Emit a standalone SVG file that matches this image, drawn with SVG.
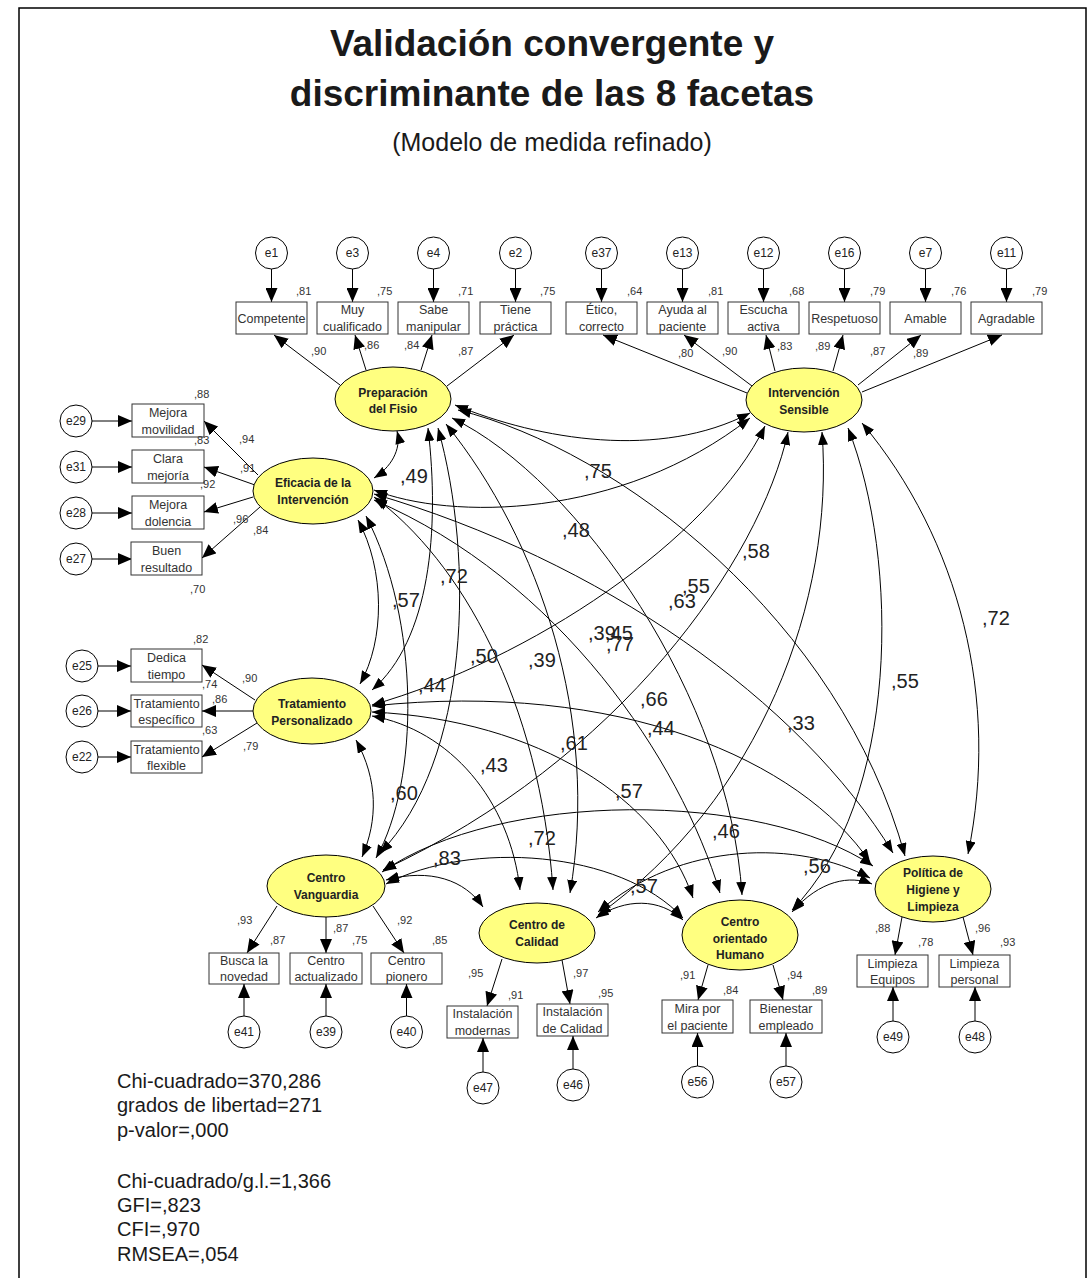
<svg xmlns="http://www.w3.org/2000/svg" width="1091" height="1278" viewBox="0 0 1091 1278">
  <defs>
    <marker id="ah" viewBox="0 0 14 12" refX="14" refY="6" markerWidth="14" markerHeight="12" markerUnits="userSpaceOnUse" orient="auto-start-reverse">
      <path d="M0,0 L14,6 L0,12 z" fill="#000"/>
    </marker>
    <marker id="ac" viewBox="0 0 13 10" refX="13" refY="5" markerWidth="13" markerHeight="10" markerUnits="userSpaceOnUse" orient="auto-start-reverse">
      <path d="M0,0 L13,5 L0,10 z" fill="#000"/>
    </marker>
    <style>
      text { font-family: "Liberation Sans", Arial, sans-serif; }
      .title { font-size: 37px; font-weight: bold; fill: #1a1a1a; text-anchor: middle; }
      .sub { font-size: 25px; fill: #1a1a1a; text-anchor: middle; }
      .stat { font-size: 20px; fill: #1a1a1a; }
      .lat { fill: #ffff80; stroke: #000; stroke-width: 1; }
      .latt { font-size: 12px; font-weight: bold; fill: #222; text-anchor: middle; }
      .box { fill: #fff; stroke: #333; stroke-width: 1; }
      .boxt { font-size: 12.5px; fill: #333; text-anchor: middle; }
      .err { fill: #fff; stroke: #000; stroke-width: 1; }
      .errt { font-size: 12px; fill: #222; text-anchor: middle; }
      .v { font-size: 11px; fill: #333; }
      .arr { stroke: #000; stroke-width: 1; fill: none; marker-end: url(#ah); }
      .cov { stroke: #000; stroke-width: 1; fill: none; marker-start: url(#ac); marker-end: url(#ac); }
      .r { font-size: 20px; fill: #222; }
      .frame { stroke: #000; stroke-width: 1.5; fill: none; }
    </style>
  </defs>

  <rect width="1091" height="1278" fill="#fff"/>
  <path class="frame" d="M19,1278 V8 H1086 V1278"/>

  <!-- heading -->
  <text class="title" x="552" y="56">Validación convergente y</text>
  <text class="title" x="552" y="106">discriminante de las 8 facetas</text>
  <text class="sub" x="552" y="151">(Modelo de medida refinado)</text>

  <!-- covariances between factors -->
  <g id="covariances">
    <path class="cov" d="M397,431 C402,450 390,468 374,478"/>
    <path class="cov" d="M455,405 C540,440 660,460 750,413"/>
    <path class="cov" d="M374,490 C450,520 620,520 750,418"/>
    <path class="cov" d="M458,410 C620,450 840,620 905,856"/>
    <path class="cov" d="M452,418 C580,480 730,700 742,895"/>
    <path class="cov" d="M446,424 C540,540 600,720 570,893"/>
    <path class="cov" d="M438,428 C475,560 470,760 380,853"/>
    <path class="cov" d="M428,428 C440,530 430,640 372,690"/>
    <path class="cov" d="M862,423 C960,540 1000,700 968,854"/>
    <path class="cov" d="M848,428 C900,560 900,800 792,910"/>
    <path class="cov" d="M822,432 C835,600 760,800 598,915"/>
    <path class="cov" d="M788,432 C760,560 620,760 383,870"/>
    <path class="cov" d="M765,426 C710,540 530,660 372,705"/>
    <path class="cov" d="M358,520 C385,570 385,640 360,684"/>
    <path class="cov" d="M366,516 C420,620 420,780 376,858"/>
    <path class="cov" d="M374,497 C460,560 540,700 553,890"/>
    <path class="cov" d="M374,500 C560,580 680,760 720,893"/>
    <path class="cov" d="M374,494 C600,560 800,700 893,853"/>
    <path class="cov" d="M356,740 C378,780 378,820 362,857"/>
    <path class="cov" d="M372,716 C450,730 510,800 520,890"/>
    <path class="cov" d="M372,712 C540,720 660,800 693,898"/>
    <path class="cov" d="M372,706 C620,680 800,760 870,862"/>
    <path class="cov" d="M386,880 C430,868 465,880 483,907"/>
    <path class="cov" d="M386,884 C470,840 620,850 683,918"/>
    <path class="cov" d="M382,872 C500,790 760,790 873,866"/>
    <path class="cov" d="M596,918 C625,898 660,898 683,920"/>
    <path class="cov" d="M598,912 C680,840 800,840 870,878"/>
    <path class="cov" d="M792,912 C820,880 850,875 872,884"/>
  </g>

  <!-- correlation values -->
  <g id="correlations">
    <text class="r" x="400" y="483">,49</text>
    <text class="r" x="584" y="478">,75</text>
    <text class="r" x="562" y="537">,48</text>
    <text class="r" x="742" y="558">,58</text>
    <text class="r" x="440" y="583">,72</text>
    <text class="r" x="682" y="593">,55</text>
    <text class="r" x="668" y="608">,63</text>
    <text class="r" x="392" y="607">,57</text>
    <text class="r" x="588" y="640">,39</text>
    <text class="r" x="605" y="640">,45</text>
    <text class="r" x="606" y="651">,77</text>
    <text class="r" x="470" y="663">,50</text>
    <text class="r" x="528" y="667">,39</text>
    <text class="r" x="418" y="692">,44</text>
    <text class="r" x="640" y="706">,66</text>
    <text class="r" x="647" y="735">,44</text>
    <text class="r" x="560" y="750">,61</text>
    <text class="r" x="480" y="772">,43</text>
    <text class="r" x="390" y="800">,60</text>
    <text class="r" x="615" y="798">,57</text>
    <text class="r" x="787" y="730">,33</text>
    <text class="r" x="982" y="625">,72</text>
    <text class="r" x="891" y="688">,55</text>
    <text class="r" x="528" y="845">,72</text>
    <text class="r" x="712" y="838">,46</text>
    <text class="r" x="433" y="865">,83</text>
    <text class="r" x="803" y="873">,56</text>
    <text class="r" x="630" y="893">,57</text>
  </g>

  <!-- Preparación del Fisio -->
  <g id="preparacion">
    <circle class="err" cx="271.5" cy="253" r="16"/><text class="errt" x="271.5" y="257">e1</text>
    <circle class="err" cx="352.5" cy="253" r="16"/><text class="errt" x="352.5" y="257">e3</text>
    <circle class="err" cx="433.5" cy="253" r="16"/><text class="errt" x="433.5" y="257">e4</text>
    <circle class="err" cx="515.5" cy="253" r="16"/><text class="errt" x="515.5" y="257">e2</text>
    <line class="arr" x1="271.5" y1="269" x2="271.5" y2="302"/>
    <line class="arr" x1="352.5" y1="269" x2="352.5" y2="302"/>
    <line class="arr" x1="433.5" y1="269" x2="433.5" y2="302"/>
    <line class="arr" x1="515.5" y1="269" x2="515.5" y2="302"/>
    <rect class="box" x="236" y="302" width="71" height="32"/><text class="boxt" x="271.5" y="323">Competente</text>
    <rect class="box" x="317" y="302" width="71" height="32"/><text class="boxt" x="352.5" y="314">Muy</text><text class="boxt" x="352.5" y="331">cualificado</text>
    <rect class="box" x="398" y="302" width="71" height="32"/><text class="boxt" x="433.5" y="314">Sabe</text><text class="boxt" x="433.5" y="331">manipular</text>
    <rect class="box" x="480" y="302" width="71" height="32"/><text class="boxt" x="515.5" y="314">Tiene</text><text class="boxt" x="515.5" y="331">práctica</text>
    <text class="v" x="296" y="295">,81</text>
    <text class="v" x="377" y="295">,75</text>
    <text class="v" x="458" y="295">,71</text>
    <text class="v" x="540" y="295">,75</text>
    <line class="arr" x1="340" y1="385" x2="274" y2="335"/>
    <line class="arr" x1="366" y1="370" x2="355" y2="335"/>
    <line class="arr" x1="421" y1="370" x2="432" y2="335"/>
    <line class="arr" x1="447" y1="386" x2="514" y2="335"/>
    <text class="v" x="311" y="355">,90</text>
    <text class="v" x="364" y="349">,86</text>
    <text class="v" x="404" y="349">,84</text>
    <text class="v" x="458" y="355">,87</text>
    <ellipse class="lat" cx="393" cy="399" rx="58" ry="32"/>
    <text class="latt" x="393" y="397">Preparación</text>
    <text class="latt" x="393" y="413">del Fisio</text>
  </g>

  <!-- Intervención Sensible -->
  <g id="intervencion">
    <circle class="err" cx="601.5" cy="253" r="16"/><text class="errt" x="601.5" y="257">e37</text>
    <circle class="err" cx="682.5" cy="253" r="16"/><text class="errt" x="682.5" y="257">e13</text>
    <circle class="err" cx="763.5" cy="253" r="16"/><text class="errt" x="763.5" y="257">e12</text>
    <circle class="err" cx="844.5" cy="253" r="16"/><text class="errt" x="844.5" y="257">e16</text>
    <circle class="err" cx="925.5" cy="253" r="16"/><text class="errt" x="925.5" y="257">e7</text>
    <circle class="err" cx="1006.5" cy="253" r="16"/><text class="errt" x="1006.5" y="257">e11</text>
    <line class="arr" x1="601.5" y1="269" x2="601.5" y2="302"/>
    <line class="arr" x1="682.5" y1="269" x2="682.5" y2="302"/>
    <line class="arr" x1="763.5" y1="269" x2="763.5" y2="302"/>
    <line class="arr" x1="844.5" y1="269" x2="844.5" y2="302"/>
    <line class="arr" x1="925.5" y1="269" x2="925.5" y2="302"/>
    <line class="arr" x1="1006.5" y1="269" x2="1006.5" y2="302"/>
    <rect class="box" x="566" y="302" width="71" height="32"/><text class="boxt" x="601.5" y="314">Ético,</text><text class="boxt" x="601.5" y="331">correcto</text>
    <rect class="box" x="647" y="302" width="71" height="32"/><text class="boxt" x="682.5" y="314">Ayuda al</text><text class="boxt" x="682.5" y="331">paciente</text>
    <rect class="box" x="728" y="302" width="71" height="32"/><text class="boxt" x="763.5" y="314">Escucha</text><text class="boxt" x="763.5" y="331">activa</text>
    <rect class="box" x="809" y="302" width="71" height="32"/><text class="boxt" x="844.5" y="323">Respetuoso</text>
    <rect class="box" x="890" y="302" width="71" height="32"/><text class="boxt" x="925.5" y="323">Amable</text>
    <rect class="box" x="971" y="302" width="71" height="32"/><text class="boxt" x="1006.5" y="323">Agradable</text>
    <text class="v" x="627" y="295">,64</text>
    <text class="v" x="708" y="295">,81</text>
    <text class="v" x="789" y="295">,68</text>
    <text class="v" x="870" y="295">,79</text>
    <text class="v" x="951" y="295">,76</text>
    <text class="v" x="1032" y="295">,79</text>
    <line class="arr" x1="747" y1="393" x2="603" y2="335"/>
    <line class="arr" x1="752" y1="386" x2="684" y2="335"/>
    <line class="arr" x1="775" y1="371" x2="766" y2="335"/>
    <line class="arr" x1="833" y1="371" x2="843" y2="335"/>
    <line class="arr" x1="858" y1="385" x2="921" y2="335"/>
    <line class="arr" x1="862" y1="392" x2="1002" y2="335"/>
    <text class="v" x="678" y="357">,80</text>
    <text class="v" x="722" y="355">,90</text>
    <text class="v" x="777" y="350">,83</text>
    <text class="v" x="815" y="350">,89</text>
    <text class="v" x="870" y="355">,87</text>
    <text class="v" x="913" y="357">,89</text>
    <ellipse class="lat" cx="804" cy="400" rx="58" ry="32"/>
    <text class="latt" x="804" y="397">Intervención</text>
    <text class="latt" x="804" y="414">Sensible</text>
  </g>

  <!-- Eficacia de la Intervención -->
  <g id="eficacia">
    <circle class="err" cx="76" cy="421" r="16"/><text class="errt" x="76" y="425">e29</text>
    <circle class="err" cx="76" cy="467" r="16"/><text class="errt" x="76" y="471">e31</text>
    <circle class="err" cx="76" cy="513" r="16"/><text class="errt" x="76" y="517">e28</text>
    <circle class="err" cx="76" cy="559" r="16"/><text class="errt" x="76" y="563">e27</text>
    <line class="arr" x1="92" y1="421" x2="132" y2="421"/>
    <line class="arr" x1="92" y1="467" x2="132" y2="467"/>
    <line class="arr" x1="92" y1="513" x2="132" y2="513"/>
    <line class="arr" x1="92" y1="559" x2="132" y2="559"/>
    <rect class="box" x="132" y="404" width="72" height="33"/><text class="boxt" x="168" y="417">Mejora</text><text class="boxt" x="168" y="434">movilidad</text>
    <rect class="box" x="132" y="450" width="72" height="33"/><text class="boxt" x="168" y="463">Clara</text><text class="boxt" x="168" y="480">mejoría</text>
    <rect class="box" x="132" y="496" width="72" height="33"/><text class="boxt" x="168" y="509">Mejora</text><text class="boxt" x="168" y="526">dolencia</text>
    <rect class="box" x="131" y="542" width="71" height="33"/><text class="boxt" x="166.5" y="555">Buen</text><text class="boxt" x="166.5" y="572">resultado</text>
    <text class="v" x="194" y="398">,88</text>
    <text class="v" x="194" y="444">,83</text>
    <text class="v" x="200" y="488">,92</text>
    <text class="v" x="190" y="593">,70</text>
    <line class="arr" x1="258" y1="475" x2="204" y2="421"/>
    <line class="arr" x1="255" y1="485" x2="204" y2="467"/>
    <line class="arr" x1="253" y1="497" x2="204" y2="512"/>
    <line class="arr" x1="260" y1="507" x2="202" y2="558"/>
    <text class="v" x="239" y="443">,94</text>
    <text class="v" x="240" y="472">,91</text>
    <text class="v" x="233" y="523">,96</text>
    <text class="v" x="253" y="534">,84</text>
    <ellipse class="lat" cx="313" cy="491" rx="60" ry="33"/>
    <text class="latt" x="313" y="487">Eficacia de la</text>
    <text class="latt" x="313" y="504">Intervención</text>
  </g>

  <!-- Tratamiento Personalizado -->
  <g id="tratamiento">
    <circle class="err" cx="82" cy="666" r="16"/><text class="errt" x="82" y="670">e25</text>
    <circle class="err" cx="82" cy="711" r="16"/><text class="errt" x="82" y="715">e26</text>
    <circle class="err" cx="82" cy="757" r="16"/><text class="errt" x="82" y="761">e22</text>
    <line class="arr" x1="98" y1="666" x2="131" y2="666"/>
    <line class="arr" x1="98" y1="711" x2="131" y2="711"/>
    <line class="arr" x1="98" y1="757" x2="131" y2="757"/>
    <rect class="box" x="131" y="649" width="71" height="33"/><text class="boxt" x="166.5" y="662">Dedica</text><text class="boxt" x="166.5" y="679">tiempo</text>
    <rect class="box" x="131" y="695" width="71" height="32"/><text class="boxt" x="166.5" y="708">Tratamiento</text><text class="boxt" x="166.5" y="724">específico</text>
    <rect class="box" x="131" y="741" width="71" height="32"/><text class="boxt" x="166.5" y="754">Tratamiento</text><text class="boxt" x="166.5" y="770">flexible</text>
    <text class="v" x="193" y="643">,82</text>
    <text class="v" x="202" y="688">,74</text>
    <text class="v" x="212" y="703">,86</text>
    <text class="v" x="202" y="734">,63</text>
    <line class="arr" x1="255" y1="700" x2="202" y2="665"/>
    <line class="arr" x1="253" y1="711" x2="202" y2="711"/>
    <line class="arr" x1="257" y1="723" x2="202" y2="757"/>
    <text class="v" x="242" y="682">,90</text>
    <text class="v" x="243" y="750">,79</text>
    <ellipse class="lat" cx="312" cy="711" rx="59" ry="33"/>
    <text class="latt" x="312" y="708">Tratamiento</text>
    <text class="latt" x="312" y="725">Personalizado</text>
  </g>

  <!-- Centro Vanguardia -->
  <g id="vanguardia">
    <line class="arr" x1="277" y1="906" x2="247" y2="953"/>
    <line class="arr" x1="326" y1="917" x2="326" y2="953"/>
    <line class="arr" x1="373" y1="906" x2="404" y2="953"/>
    <text class="v" x="237" y="924">,93</text>
    <text class="v" x="270" y="944">,87</text>
    <text class="v" x="333" y="932">,87</text>
    <text class="v" x="352" y="944">,75</text>
    <text class="v" x="397" y="924">,92</text>
    <text class="v" x="432" y="944">,85</text>
    <rect class="box" x="209" y="953" width="70" height="31"/><text class="boxt" x="244" y="965">Busca la</text><text class="boxt" x="244" y="981">novedad</text>
    <rect class="box" x="290" y="953" width="72" height="31"/><text class="boxt" x="326" y="965">Centro</text><text class="boxt" x="326" y="981">actualizado</text>
    <rect class="box" x="371" y="953" width="71" height="31"/><text class="boxt" x="406.5" y="965">Centro</text><text class="boxt" x="406.5" y="981">pionero</text>
    <line class="arr" x1="244" y1="1016" x2="244" y2="984"/>
    <line class="arr" x1="326" y1="1016" x2="326" y2="984"/>
    <line class="arr" x1="406.5" y1="1016" x2="406.5" y2="984"/>
    <circle class="err" cx="244" cy="1032" r="16"/><text class="errt" x="244" y="1036">e41</text>
    <circle class="err" cx="326" cy="1032" r="16"/><text class="errt" x="326" y="1036">e39</text>
    <circle class="err" cx="406.5" cy="1032" r="16"/><text class="errt" x="406.5" y="1036">e40</text>
    <ellipse class="lat" cx="326" cy="886" rx="59" ry="31"/>
    <text class="latt" x="326" y="882">Centro</text>
    <text class="latt" x="326" y="899">Vanguardia</text>
  </g>

  <!-- Centro de Calidad -->
  <g id="calidad">
    <line class="arr" x1="502" y1="959" x2="487" y2="1006"/>
    <line class="arr" x1="562" y1="960" x2="570" y2="1004"/>
    <text class="v" x="468" y="977">,95</text>
    <text class="v" x="508" y="999">,91</text>
    <text class="v" x="573" y="977">,97</text>
    <text class="v" x="598" y="997">,95</text>
    <rect class="box" x="447" y="1006" width="71" height="32"/><text class="boxt" x="482.5" y="1018">Instalación</text><text class="boxt" x="482.5" y="1035">modernas</text>
    <rect class="box" x="537" y="1004" width="71" height="32"/><text class="boxt" x="572.5" y="1016">Instalación</text><text class="boxt" x="572.5" y="1033">de Calidad</text>
    <line class="arr" x1="483" y1="1072" x2="483" y2="1038"/>
    <line class="arr" x1="573" y1="1069" x2="573" y2="1036"/>
    <circle class="err" cx="483" cy="1088" r="16"/><text class="errt" x="483" y="1092">e47</text>
    <circle class="err" cx="573" cy="1085" r="16"/><text class="errt" x="573" y="1089">e46</text>
    <ellipse class="lat" cx="537" cy="933" rx="58" ry="30"/>
    <text class="latt" x="537" y="929">Centro de</text>
    <text class="latt" x="537" y="946">Calidad</text>
  </g>

  <!-- Centro orientado Humano -->
  <g id="humano">
    <line class="arr" x1="708" y1="965" x2="698" y2="1000"/>
    <line class="arr" x1="773" y1="965" x2="783" y2="1000"/>
    <text class="v" x="680" y="979">,91</text>
    <text class="v" x="723" y="994">,84</text>
    <text class="v" x="787" y="979">,94</text>
    <text class="v" x="812" y="994">,89</text>
    <rect class="box" x="662" y="1000" width="71" height="33"/><text class="boxt" x="697.5" y="1013">Mira por</text><text class="boxt" x="697.5" y="1030">el paciente</text>
    <rect class="box" x="750" y="1000" width="72" height="33"/><text class="boxt" x="786" y="1013">Bienestar</text><text class="boxt" x="786" y="1030">empleado</text>
    <line class="arr" x1="697.5" y1="1066" x2="697.5" y2="1033"/>
    <line class="arr" x1="786" y1="1066" x2="786" y2="1033"/>
    <circle class="err" cx="697.5" cy="1082" r="16"/><text class="errt" x="697.5" y="1086">e56</text>
    <circle class="err" cx="786" cy="1082" r="16"/><text class="errt" x="786" y="1086">e57</text>
    <ellipse class="lat" cx="740" cy="935" rx="58" ry="35"/>
    <text class="latt" x="740" y="926">Centro</text>
    <text class="latt" x="740" y="943">orientado</text>
    <text class="latt" x="740" y="959">Humano</text>
  </g>

  <!-- Política de Higiene y Limpieza -->
  <g id="politica">
    <line class="arr" x1="902" y1="917" x2="895" y2="955"/>
    <line class="arr" x1="963" y1="917" x2="973" y2="955"/>
    <text class="v" x="875" y="932">,88</text>
    <text class="v" x="918" y="946">,78</text>
    <text class="v" x="975" y="932">,96</text>
    <text class="v" x="1000" y="946">,93</text>
    <rect class="box" x="857" y="955" width="71" height="32"/><text class="boxt" x="892.5" y="968">Limpieza</text><text class="boxt" x="892.5" y="984">Equipos</text>
    <rect class="box" x="939" y="955" width="71" height="32"/><text class="boxt" x="974.5" y="968">Limpieza</text><text class="boxt" x="974.5" y="984">personal</text>
    <line class="arr" x1="893" y1="1021" x2="893" y2="987"/>
    <line class="arr" x1="975" y1="1021" x2="975" y2="987"/>
    <circle class="err" cx="893" cy="1037" r="16"/><text class="errt" x="893" y="1041">e49</text>
    <circle class="err" cx="975" cy="1037" r="16"/><text class="errt" x="975" y="1041">e48</text>
    <ellipse class="lat" cx="933" cy="889" rx="58" ry="33"/>
    <text class="latt" x="933" y="877">Política de</text>
    <text class="latt" x="933" y="894">Higiene y</text>
    <text class="latt" x="933" y="911">Limpieza</text>
  </g>

  <!-- fit statistics -->
  <g id="fit">
    <text class="stat" x="117" y="1088">Chi-cuadrado=370,286</text>
    <text class="stat" x="117" y="1112">grados de libertad=271</text>
    <text class="stat" x="117" y="1137">p-valor=,000</text>
    <text class="stat" x="117" y="1188">Chi-cuadrado/g.l.=1,366</text>
    <text class="stat" x="117" y="1212">GFI=,823</text>
    <text class="stat" x="117" y="1236">CFI=,970</text>
    <text class="stat" x="117" y="1261">RMSEA=,054</text>
  </g>
</svg>
